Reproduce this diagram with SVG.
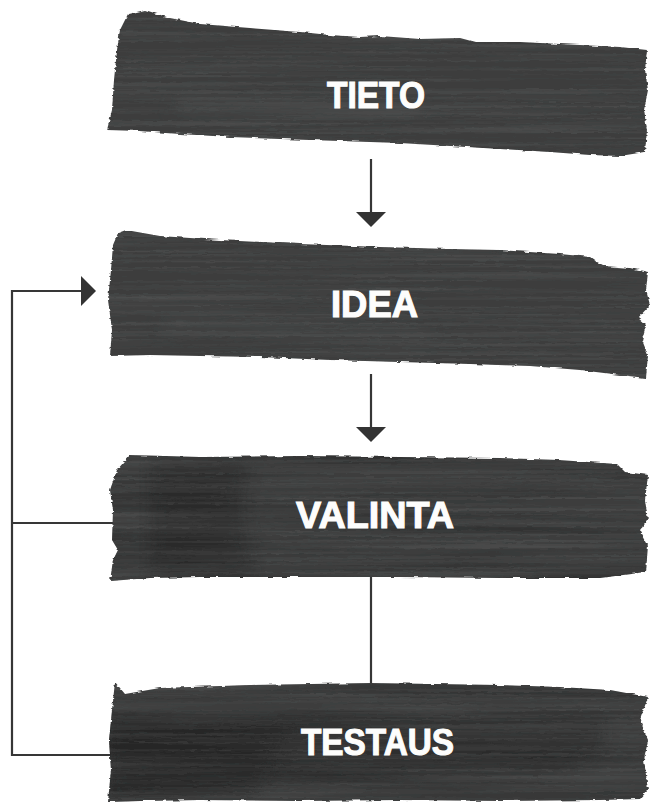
<svg xmlns="http://www.w3.org/2000/svg" width="651" height="802" viewBox="0 0 651 802">
  <style>
    .ink { fill: #3c3d3d; }
    .dark { fill: #232424; }
    .label { font-family: "Liberation Sans", Arial, sans-serif; font-weight: bold; font-size: 36px; fill: #fdfdfc; stroke: #fdfdfc; stroke-width: 1.1; text-anchor: middle; }
    .conn { fill: none; stroke: #363636; stroke-width: 2.2; }
  </style>
  <defs>
    <marker id="arrow" viewBox="0 0 15 30" refX="8" refY="15" markerWidth="15" markerHeight="30" markerUnits="userSpaceOnUse" orient="auto">
      <path d="M0,0 L15,15 L0,30 Z" fill="#333333"/>
    </marker>
    <filter id="rough" x="-5%" y="-15%" width="110%" height="130%">
      <feTurbulence type="fractalNoise" baseFrequency="0.08 0.4" numOctaves="2" seed="4" result="t"/>
      <feDisplacementMap in="SourceGraphic" in2="t" scale="3.5" xChannelSelector="R" yChannelSelector="G"/>
    </filter>
    <filter id="streaks" x="0" y="0" width="651" height="802" filterUnits="userSpaceOnUse">
      <feTurbulence type="fractalNoise" baseFrequency="0.003 0.35" numOctaves="3" seed="9"/>
      <feColorMatrix type="matrix" values="0 0 0 0 1  0 0 0 0 1  0 0 0 0 1  0.16 0 0 0 -0.06"/>
    </filter>
    <filter id="shade" x="0" y="0" width="651" height="802" filterUnits="userSpaceOnUse">
      <feTurbulence type="fractalNoise" baseFrequency="0.004 0.08" numOctaves="2" seed="21"/>
      <feColorMatrix type="matrix" values="0 0 0 0 0  0 0 0 0 0  0 0 0 0 0  0.4 0 0 0 -0.15"/>
    </filter>
    <filter id="blur"><feGaussianBlur stdDeviation="8"/></filter>
    <path id="s1" d="M128,14 L145,10 L170,18 L200,24 L250,28 L300,32 L330,35 L360,37 L380,36 L420,39 L460,38 L475,42 L520,42 L580,45 L620,47 L647,50 L645,70 L648,90 L644,110 L647,130 L645,152 L620,156 L590,155 L550,152 L500,149 L450,146 L400,143 L340,141 L280,139 L230,137 L180,134 L140,131 L107,130 L112,110 L114,80 L117,50 L120,30 Z"/>
    <path id="s2" d="M118,233 L126,230 L160,236 L220,240 L300,244 L380,247 L450,249 L500,250 L560,254 L590,257 L597,262 L605,266 L630,268 L648,272 L646,290 L650,305 L638,318 L646,325 L642,340 L648,355 L646,378 L620,375 L580,370 L530,366 L470,364 L400,362 L330,360 L260,357 L200,356 L150,355 L110,356 L112,330 L108,300 L111,270 L113,245 Z"/>
    <path id="s3" d="M130,455 L200,457 L300,456 L400,457 L500,458 L560,460 L617,464 L625,472 L648,475 L645,500 L648,520 L640,530 L648,545 L646,572 L600,578 L500,578 L400,577 L300,577 L200,577 L150,578 L110,581 L113,560 L118,550 L112,540 L113,510 L110,490 L117,470 Z"/>
    <path id="s4" d="M115,682 L125,694 L160,688 L250,685 L371,683 L500,685 L560,687 L610,690 L648,697 L640,720 L648,740 L644,760 L648,790 L640,799 L600,800 L500,801 L400,800 L300,801 L200,800 L140,801 L108,802 L111,770 L109,740 L112,710 Z"/>
    <clipPath id="c1"><use href="#s1"/></clipPath>
    <clipPath id="c2"><use href="#s2"/></clipPath>
    <clipPath id="c3"><use href="#s3"/></clipPath>
    <clipPath id="c4"><use href="#s4"/></clipPath>
  </defs>

  <rect width="651" height="802" fill="#ffffff"/>

  <g id="connectors">
    <path class="conn" d="M371,159 L371,220" marker-end="url(#arrow)"/>
    <path class="conn" d="M371,374 L371,435" marker-end="url(#arrow)"/>
    <path class="conn" d="M371,576 L371,684"/>
    <path class="conn" d="M113,523 L12,523"/>
    <path class="conn" d="M111,755 L12,755 L12,291 L89,291" marker-end="url(#arrow)"/>
  </g>

  <g id="node-tieto">
    <g filter="url(#rough)">
      <use href="#s1" class="ink"/>
      <rect x="100" y="0" width="551" height="170" clip-path="url(#c1)" filter="url(#streaks)"/>
      <g clip-path="url(#c1)"><path d="M180,96 C260,98 330,101 420,104 L420,118 C330,117 250,116 170,112 Z" fill="#5a5c5c" opacity="0.35" filter="url(#blur)"/></g>
    </g>
    <text class="label" x="376" y="108" textLength="98" lengthAdjust="spacingAndGlyphs">TIETO</text>
  </g>

  <g id="node-idea">
    <g filter="url(#rough)">
      <use href="#s2" class="ink"/>
      <rect x="100" y="220" width="551" height="170" clip-path="url(#c2)" filter="url(#streaks)"/>
      <g clip-path="url(#c2)"><path d="M160,318 C250,320 330,326 430,330 L430,340 C330,338 250,334 160,330 Z" fill="#5a5c5c" opacity="0.3" filter="url(#blur)"/></g>
    </g>
    <text class="label" x="374.5" y="317" textLength="87" lengthAdjust="spacingAndGlyphs">IDEA</text>
  </g>

  <g id="node-valinta">
    <g filter="url(#rough)">
      <use href="#s3" class="ink"/>
      <g clip-path="url(#c3)"><path d="M150,462 L250,462 C235,500 245,540 255,575 L150,575 Z" class="dark" opacity="0.4" filter="url(#blur)"/></g>
      <rect x="100" y="450" width="551" height="140" clip-path="url(#c3)" filter="url(#shade)"/>
      <rect x="100" y="450" width="551" height="140" clip-path="url(#c3)" filter="url(#streaks)"/>
    </g>
    <text class="label" x="375" y="528" textLength="158" lengthAdjust="spacingAndGlyphs">VALINTA</text>
  </g>

  <g id="node-testaus">
    <g filter="url(#rough)">
      <use href="#s4" class="ink"/>
      <g clip-path="url(#c4)">
        <path d="M108,718 C200,714 400,718 600,720 C612,740 596,762 560,768 C400,774 250,780 108,786 Z" class="dark" opacity="0.35" filter="url(#blur)"/>
        <path d="M108,722 L290,726 C275,760 262,780 250,800 L108,802 Z" class="dark" opacity="0.35" filter="url(#blur)"/>
      </g>
      <rect x="100" y="675" width="551" height="127" clip-path="url(#c4)" filter="url(#shade)"/>
      <rect x="100" y="675" width="551" height="127" clip-path="url(#c4)" filter="url(#streaks)"/>
    </g>
    <text class="label" x="377.5" y="755" textLength="153" lengthAdjust="spacingAndGlyphs">TESTAUS</text>
  </g>
</svg>
